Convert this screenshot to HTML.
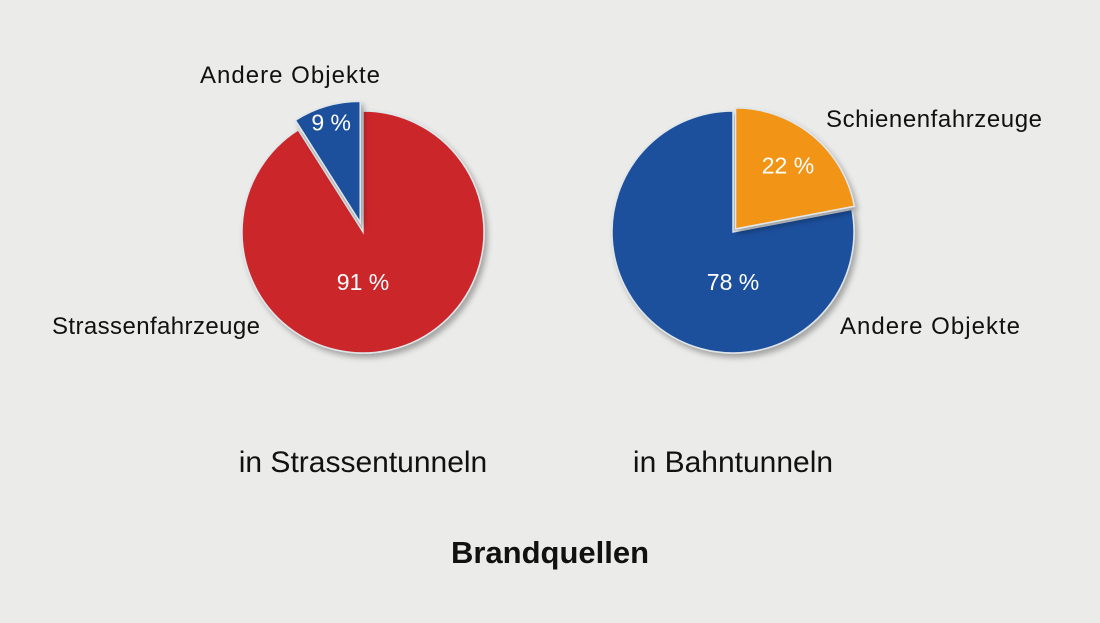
<!DOCTYPE html>
<html><head><meta charset="utf-8"><style>
body{margin:0;width:1100px;height:618px;background:#ebebea;overflow:hidden;font-family:"Liberation Sans",sans-serif}
</style></head><body>
<svg id="chart" width="1100" height="618" xmlns="http://www.w3.org/2000/svg">
<defs><filter id="sh" x="-20%" y="-20%" width="150%" height="150%"><feDropShadow dx="3" dy="4" stdDeviation="3" flood-color="#000" flood-opacity="0.3"/></filter></defs>
<g id="pies"></g>
<text x="363" y="472" font-size="30" text-anchor="middle" fill="#111">in Strassentunneln</text>
<text x="733" y="472" font-size="30" text-anchor="middle" fill="#111">in Bahntunneln</text>
<text x="550" y="563" font-size="31" font-weight="bold" text-anchor="middle" fill="#111">Brandquellen</text>
</svg>
<script>
const pieNames = ['strassentunnel', 'bahntunnel'];
const leftValues = [91, 9];
const rightValues = [78, 22];
const leftLabels = ['Strassenfahrzeuge', 'Andere Objekte'];
const rightLabels = ['Andere Objekte', 'Schienenfahrzeuge'];
const leftColors = ['#cb2529', '#1d4f9c'];
const rightColors = ['#1d4f9c', '#f29416'];
const NS = 'http://www.w3.org/2000/svg';
const g = document.getElementById('pies');
function pt(cx, cy, r, a){return [cx + r*Math.sin(a), cy - r*Math.cos(a)];}
function drawPie(name, values, labels, colors, cx, cy, r, explodeIdx, explodeDist, dir, labelPos, eLabelR){
  const total = values.reduce((a,b)=>a+b,0);
  const eAng = values[explodeIdx]/total*2*Math.PI;
  values.forEach((v,i)=>{
    let a0, a1;
    if(i===explodeIdx){a0=0;a1=dir*eAng;}
    else{a0=dir*eAng;a1=dir*2*Math.PI;}
    let ox=0, oy=0;
    const mid=(a0+a1)/2;
    if(i===explodeIdx){ox=explodeDist*Math.sin(mid);oy=-explodeDist*Math.cos(mid);}
    const c=[cx+ox,cy+oy];
    const p0=pt(c[0],c[1],r,a0), p1=pt(c[0],c[1],r,a1);
    const large=Math.abs(a1-a0)>Math.PI?1:0;
    const sweep=a1>a0?1:0;
    const path=document.createElementNS(NS,'path');
    path.setAttribute('d',`M${c[0]},${c[1]} L${p0[0]},${p0[1]} A${r},${r} 0 ${large} ${sweep} ${p1[0]},${p1[1]} Z`);
    path.setAttribute('fill',colors[i]);
    path.setAttribute('stroke','#dfe6ea');
    path.setAttribute('stroke-width','1.5');
    path.setAttribute('filter','url(#sh)');
    
    
    g.appendChild(path);
    let lp;
    if(i===explodeIdx){ lp = pt(c[0],c[1],r*eLabelR,mid); lp[1]+=8; }
    else { lp = [cx, cy+58]; }
    const t=document.createElementNS(NS,'text');
    t.setAttribute('x',lp[0]);t.setAttribute('y',lp[1]);
    t.setAttribute('font-size','23');t.setAttribute('fill','#fff');t.setAttribute('text-anchor','middle');
    t.textContent=values[i]+' %';
    
    
    g.appendChild(t);
    const lb=document.createElementNS(NS,'text');
    lb.setAttribute('x',labelPos[i][0]);lb.setAttribute('y',labelPos[i][1]);
    lb.setAttribute('font-size','24');lb.setAttribute('fill','#111');lb.setAttribute('text-anchor','start');
    lb.setAttribute('textLength', labelPos[i][2]);
    lb.textContent=labels[i];
    
    
    g.appendChild(lb);
  });
}
drawPie(pieNames[0], leftValues, leftLabels, leftColors, 363, 232, 121, 1, 10, -1, [[52,334,208],[200,83,180]], 0.86);
drawPie(pieNames[1], rightValues, rightLabels, rightColors, 733, 232, 121, 1, 4, 1, [[840,334,180],[826,127,216]], 0.68);
</script>
</body></html>
